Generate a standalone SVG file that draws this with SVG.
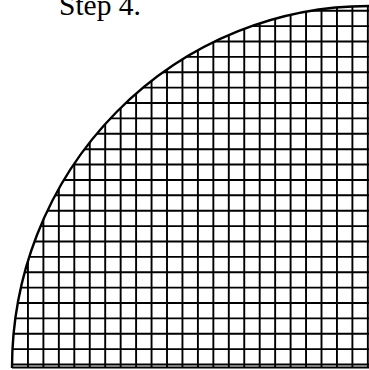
<svg xmlns="http://www.w3.org/2000/svg" width="369" height="370" viewBox="0 0 369 370">
<style>
.g line{stroke:#000;stroke-width:1.9}
.b{fill:none;stroke:#000;stroke-width:2.4}
.t{font-family:"Liberation Serif","Times New Roman",serif;font-size:29.5px;fill:#000}
</style>
<defs>
<clipPath id="q"><path d="M12,368 A357,362 0 0 1 369,6 L369,368 Z"/></clipPath>
</defs>
<rect width="369" height="370" fill="#fff"/>
<text class="t" x="59" y="15">Step 4.</text>
<g id="grid" class="g" clip-path="url(#q)">
<line x1="27.95" y1="0" x2="27.95" y2="370"/>
<line x1="43.4" y1="0" x2="43.4" y2="370"/>
<line x1="58.85" y1="0" x2="58.85" y2="370"/>
<line x1="74.3" y1="0" x2="74.3" y2="370"/>
<line x1="89.75" y1="0" x2="89.75" y2="370"/>
<line x1="105.2" y1="0" x2="105.2" y2="370"/>
<line x1="120.65" y1="0" x2="120.65" y2="370"/>
<line x1="136.1" y1="0" x2="136.1" y2="370"/>
<line x1="151.55" y1="0" x2="151.55" y2="370"/>
<line x1="167" y1="0" x2="167" y2="370"/>
<line x1="182.45" y1="0" x2="182.45" y2="370"/>
<line x1="197.9" y1="0" x2="197.9" y2="370"/>
<line x1="213.35" y1="0" x2="213.35" y2="370"/>
<line x1="228.8" y1="0" x2="228.8" y2="370"/>
<line x1="244.25" y1="0" x2="244.25" y2="370"/>
<line x1="259.7" y1="0" x2="259.7" y2="370"/>
<line x1="275.15" y1="0" x2="275.15" y2="370"/>
<line x1="290.6" y1="0" x2="290.6" y2="370"/>
<line x1="306.05" y1="0" x2="306.05" y2="370"/>
<line x1="321.5" y1="0" x2="321.5" y2="370"/>
<line x1="336.95" y1="0" x2="336.95" y2="370"/>
<line x1="352.4" y1="0" x2="352.4" y2="370"/>
<line x1="367.85" y1="0" x2="367.85" y2="370"/>
<line x1="0" y1="364.5" x2="369" y2="364.5"/>
<line x1="0" y1="349.12" x2="369" y2="349.12"/>
<line x1="0" y1="333.74" x2="369" y2="333.74"/>
<line x1="0" y1="318.36" x2="369" y2="318.36"/>
<line x1="0" y1="302.98" x2="369" y2="302.98"/>
<line x1="0" y1="287.6" x2="369" y2="287.6"/>
<line x1="0" y1="272.22" x2="369" y2="272.22"/>
<line x1="0" y1="256.84" x2="369" y2="256.84"/>
<line x1="0" y1="241.46" x2="369" y2="241.46"/>
<line x1="0" y1="226.08" x2="369" y2="226.08"/>
<line x1="0" y1="210.7" x2="369" y2="210.7"/>
<line x1="0" y1="195.32" x2="369" y2="195.32"/>
<line x1="0" y1="179.94" x2="369" y2="179.94"/>
<line x1="0" y1="164.56" x2="369" y2="164.56"/>
<line x1="0" y1="149.18" x2="369" y2="149.18"/>
<line x1="0" y1="133.8" x2="369" y2="133.8"/>
<line x1="0" y1="118.42" x2="369" y2="118.42"/>
<line x1="0" y1="103.04" x2="369" y2="103.04"/>
<line x1="0" y1="87.66" x2="369" y2="87.66"/>
<line x1="0" y1="72.28" x2="369" y2="72.28"/>
<line x1="0" y1="56.9" x2="369" y2="56.9"/>
<line x1="0" y1="41.52" x2="369" y2="41.52"/>
<line x1="0" y1="26.14" x2="369" y2="26.14"/>
<line x1="0" y1="10.76" x2="369" y2="10.76"/>
</g>
<g id="boundary">
<path class="b" d="M12,368 A357,362 0 0 1 369,6"/>
<line x1="12" y1="367.5" x2="369" y2="367.5" stroke="#000" stroke-width="1.9"/>
</g>
</svg>
